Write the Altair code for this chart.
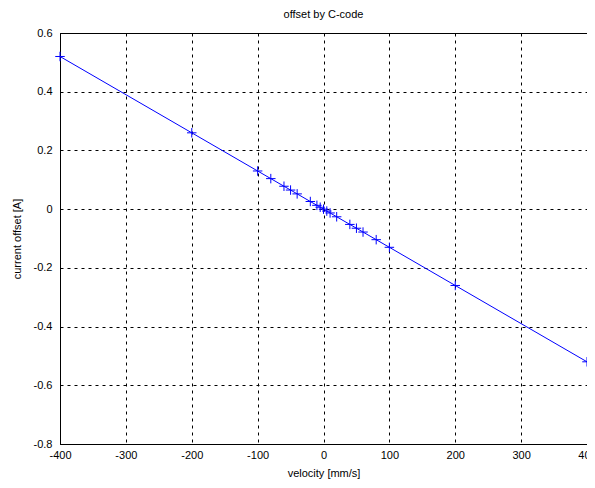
import altair as alt
import pandas as pd

velocity = [-400, -200, -100, -80, -60, -50, -40, -20, -10, -5, 0, 5, 10, 20, 40, 50, 60, 80, 100, 200, 400]
offset = [0.52, 0.26, 0.13, 0.104, 0.078, 0.065, 0.052, 0.026, 0.013, 0.0065, 0.0,
          -0.0065, -0.013, -0.026, -0.052, -0.065, -0.078, -0.104, -0.13, -0.26, -0.52]
x_ticks = [-400, -300, -200, -100, 0, 100, 200, 300, 400]
y_ticks = [-0.8, -0.6, -0.4, -0.2, 0, 0.2, 0.4, 0.6]
title_text = ["offset by C-code"]

df = pd.DataFrame({"v": velocity, "o": offset})

FONT = "Liberation Sans"
W, H = 527, 411

x = alt.X("v:Q", scale=alt.Scale(domain=[-400, 400], nice=False, zero=False),
          axis=alt.Axis(values=x_ticks, title="velocity [mm/s]",
                        labelExpr="replace(format(datum.value, 'd'), '\u2212', '-')",
                        labelFlush=False, labelOverlap=False))
y = alt.Y("o:Q", scale=alt.Scale(domain=[-0.8, 0.6], nice=False, zero=False),
          axis=alt.Axis(values=y_ticks, title="current offset [A]",
                        labelExpr="replace(format(datum.value, '.1~f'), '\u2212', '-')",
                        labelFlush=False, labelOverlap=False))

line = alt.Chart(df).mark_line(color="#0000ff", strokeWidth=1).encode(x=x, y=y)
pts = alt.Chart(df).mark_point(shape="M-1,0L1,0M0,-1L0,1", filled=False, color="#0000ff",
                               size=90, strokeWidth=1, opacity=1).encode(x=x, y=y)
title = alt.Chart(pd.DataFrame({"t": title_text})).mark_text(
    font=FONT, fontSize=11, color="black", baseline="middle", align="center"
).encode(text="t:N", x=alt.value(W / 2), y=alt.value(-18))

chart = (line + pts + title).properties(
    width=W, height=H,
    autosize=alt.AutoSizeParams(type="none"),
    padding={"left": 52, "top": 25, "right": 0, "bottom": 36},
).configure_view(stroke="black", strokeWidth=1).configure_axis(
    grid=True, gridColor="black", gridDash=[3, 4], gridOpacity=1, gridWidth=1,
    domainColor="black", domainWidth=1, ticks=False,
    labelFont=FONT, labelFontSize=11, labelColor="black",
    titleFont=FONT, titleFontSize=11, titleFontWeight="normal", titleColor="black",
).configure_axisY(titlePadding=11, labelPadding=8).configure_axisX(titlePadding=7, labelPadding=5)

chart.save("out.html", embed_options={"renderer": "svg", "actions": False})
